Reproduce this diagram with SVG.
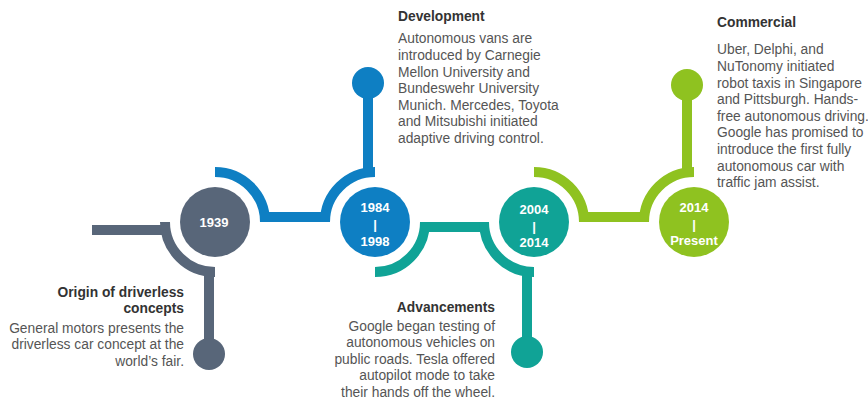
<svg xmlns="http://www.w3.org/2000/svg" width="868" height="401" viewBox="0 0 868 401">
<style>
.ring{fill:none;stroke-width:10}
.g{fill:#586679}.gs{stroke:#586679}
.b{fill:#0e7fc3}.bs{stroke:#0e7fc3}
.t{fill:#10a396}.ts{stroke:#10a396}
.l{fill:#8fc220}.ls{stroke:#8fc220}
.yr{font-family:"Liberation Sans",Arial,sans-serif;font-size:13px;font-weight:bold;fill:#fff;text-anchor:middle}
.h{font-family:"Liberation Sans",Arial,sans-serif;font-size:13.8px;font-weight:bold;fill:#333}
.p{font-family:"Liberation Sans",Arial,sans-serif;font-size:13.8px;fill:#555}
.r{text-anchor:end}
</style>
<rect width="868" height="401" fill="#fff"/>
<g id="connectors">
  <g id="c-gray">
    <rect class="g" x="92" y="225" width="78" height="10"/>
    <path class="ring gs" d="M165,222 A50,50 0 0 0 215,272"/>
    <rect class="g" x="204" y="267" width="10" height="87"/>
  </g>
  <g id="c-blue">
    <path class="ring bs" d="M215,172 A50,50 0 0 1 265,222"/>
    <rect class="b" x="260" y="212" width="70" height="10"/>
    <path class="ring bs" d="M325,222 A50,50 0 0 1 375,172"/>
    <rect class="b" x="363" y="83" width="10" height="94"/>
  </g>
  <g id="c-teal">
    <path class="ring ts" d="M375,272 A50,50 0 0 0 425,222"/>
    <rect class="t" x="420" y="222" width="69" height="10"/>
    <path class="ring ts" d="M484,222 A50,50 0 0 0 534,272"/>
    <rect class="t" x="522" y="267" width="10" height="85"/>
  </g>
  <g id="c-green">
    <path class="ring ls" d="M534,172 A50,50 0 0 1 584,222"/>
    <rect class="l" x="579" y="212" width="70" height="10"/>
    <path class="ring ls" d="M644,222 A50,50 0 0 1 694,172"/>
    <rect class="l" x="682" y="85" width="10" height="92"/>
  </g>
</g>
<g id="node-1939">
  <circle class="g" cx="215" cy="222" r="35"/>
  <text class="yr" x="214" y="227">1939</text>
  <circle class="g" cx="209" cy="354" r="16"/>
  <text class="h r" x="184" y="297">Origin of driverless</text>
  <text class="h r" x="184" y="313">concepts</text>
  <text class="p r" x="184" y="333">General motors presents the</text>
  <text class="p r" x="184" y="349">driverless car concept at the</text>
  <text class="p r" x="184" y="366">world’s fair.</text>
</g>
<g id="node-1984">
  <circle class="b" cx="375" cy="222" r="35"/>
  <text class="yr" x="375" y="212">1984</text>
  <text class="yr" x="375" y="229">|</text>
  <text class="yr" x="375" y="246">1998</text>
  <circle class="b" cx="368" cy="83" r="16"/>
  <text class="h" x="398" y="21">Development</text>
  <text class="p" x="398" y="43">Autonomous vans are</text>
  <text class="p" x="398" y="60">introduced by Carnegie</text>
  <text class="p" x="398" y="77">Mellon University and</text>
  <text class="p" x="398" y="93">Bundeswehr University</text>
  <text class="p" x="398" y="110">Munich. Mercedes, Toyota</text>
  <text class="p" x="398" y="126">and Mitsubishi initiated</text>
  <text class="p" x="398" y="143">adaptive driving control.</text>
</g>
<g id="node-2004">
  <circle class="t" cx="534" cy="222" r="35"/>
  <text class="yr" x="534" y="214">2004</text>
  <text class="yr" x="534" y="231">|</text>
  <text class="yr" x="534" y="247">2014</text>
  <circle class="t" cx="527" cy="352" r="16"/>
  <text class="h r" x="495" y="312">Advancements</text>
  <text class="p r" x="495" y="331">Google began testing of</text>
  <text class="p r" x="495" y="347">autonomous vehicles on</text>
  <text class="p r" x="495" y="364">public roads. Tesla offered</text>
  <text class="p r" x="495" y="380">autopilot mode to take</text>
  <text class="p r" x="495" y="397">their hands off the wheel.</text>
</g>
<g id="node-2014">
  <circle class="l" cx="694" cy="222" r="35"/>
  <text class="yr" x="694" y="212">2014</text>
  <text class="yr" x="694" y="229">|</text>
  <text class="yr" x="694" y="245">Present</text>
  <circle class="l" cx="687" cy="85" r="16"/>
  <text class="h" x="717" y="27">Commercial</text>
  <text class="p" x="717" y="54">Uber, Delphi, and</text>
  <text class="p" x="717" y="71">NuTonomy initiated</text>
  <text class="p" x="717" y="88">robot taxis in Singapore</text>
  <text class="p" x="717" y="104">and Pittsburgh. Hands-</text>
  <text class="p" x="717" y="121">free autonomous driving.</text>
  <text class="p" x="717" y="137">Google has promised to</text>
  <text class="p" x="717" y="154">introduce the first fully</text>
  <text class="p" x="717" y="171">autonomous car with</text>
  <text class="p" x="717" y="187">traffic jam assist.</text>
</g>
</svg>
